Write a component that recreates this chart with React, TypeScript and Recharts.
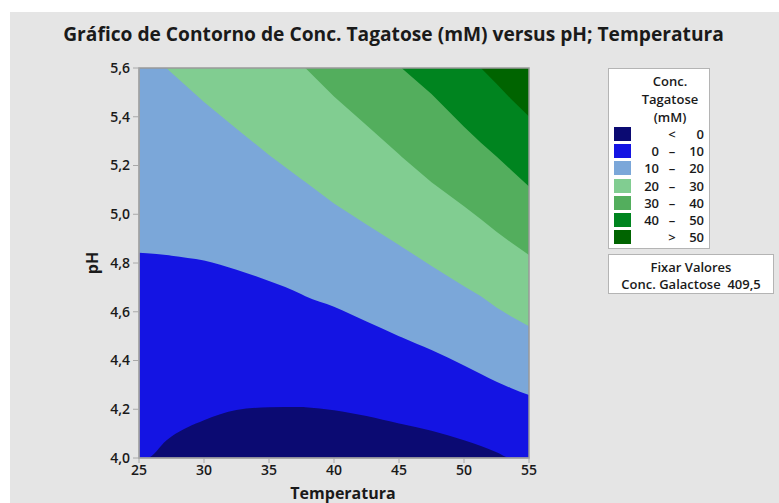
import React from 'react';
import {
    ComposedChart, Area, XAxis, YAxis, ReferenceArea, Label
} from 'recharts';

/* ── Dados ────────────────────────────────────────── */
const temperatura = [25, 25.6, 27.1, 27.5, 30, 32.5, 35, 37.5, 37.8, 40, 42.5, 45, 45.2, 47.5, 50, 51.3, 52.5, 53.6, 55];

// pH de cada linha de contorno (recortado ao domínio 4,0–5,6)
const nivel0 = [4.0, 4.0, 4.072, 4.088, 4.155, 4.197, 4.208, 4.209, 4.208, 4.196, 4.172, 4.142, 4.14, 4.112, 4.073, 4.049, 4.024, 4.0, 4.0];
const nivel10 = [4.842, 4.84, 4.833, 4.83, 4.81, 4.772, 4.726, 4.672, 4.664, 4.621, 4.56, 4.5, 4.495, 4.443, 4.38, 4.345, 4.313, 4.287, 4.258];
const nivel20 = [5.6, 5.6, 5.6, 5.581, 5.461, 5.351, 5.243, 5.144, 5.132, 5.044, 4.958, 4.874, 4.867, 4.788, 4.705, 4.664, 4.617, 4.582, 4.541];
const nivel30 = [5.6, 5.6, 5.6, 5.6, 5.6, 5.6, 5.6, 5.6, 5.6, 5.483, 5.365, 5.246, 5.236, 5.131, 5.033, 4.98, 4.928, 4.885, 4.833];
const nivel40 = [5.6, 5.6, 5.6, 5.6, 5.6, 5.6, 5.6, 5.6, 5.6, 5.6, 5.6, 5.6, 5.6, 5.493, 5.359, 5.293, 5.237, 5.183, 5.114];
const nivel50 = [5.6, 5.6, 5.6, 5.6, 5.6, 5.6, 5.6, 5.6, 5.6, 5.6, 5.6, 5.6, 5.6, 5.6, 5.6, 5.6, 5.535, 5.474, 5.401];

const ticksX = [25, 30, 35, 40, 45, 50, 55];
const ticksY = [4.0, 4.2, 4.4, 4.6, 4.8, 5.0, 5.2, 5.4, 5.6];

/* ── Cores / legenda ──────────────────────────────── */
const cores = ['#0b0a72', '#1414e3', '#7ba7d9', '#81cd91', '#53ae5d', '#00841f', '#006400'];
const legendaInicio = ['', '0', '10', '20', '30', '40', ''];
const legendaSinal = ['<', '–', '–', '–', '–', '–', '>'];
const legendaFim = ['0', '10', '20', '30', '40', '50', '50'];

const dados = temperatura.map((t, i) => ({
    t,
    c0: nivel0[i],
    c10: nivel10[i],
    c20: nivel20[i],
    c30: nivel30[i],
    c40: nivel40[i],
    c50: nivel50[i],
}));

const FONT = '"Open Sans", "Noto Sans", sans-serif';
const fmt = (v: number) => v.toFixed(1).replace('.', ',');

const RotuloPH = () => (
    <text
        x={92}
        y={263}
        transform="rotate(-90 92 263)"
        textAnchor="middle"
        dominantBaseline="central"
        style={{ fontSize: 16, fontWeight: 700, fill: '#1a1a1a', fontFamily: FONT }}
    >
        pH
    </text>
);

const Legenda: React.FC = () => (
    <>
        <div style={{
            position: 'absolute', left: 608, top: 68, width: 100, height: 179,
            background: '#fff', border: '1px solid #b4b4b4', fontFamily: FONT,
            fontWeight: 600, fontSize: 13, color: '#1a1a1a',
        }}>
            <div style={{ position: 'absolute', left: 0, top: 3, width: 122, textAlign: 'center', lineHeight: '18px' }}>
                Conc.<br />Tagatose<br />(mM)
            </div>
            {cores.map((c, i) => (
                <div key={c} style={{ position: 'absolute', left: 5, top: 58 + i * 17.2, height: 14, width: 92 }}>
                    <div style={{ position: 'absolute', left: 0, top: 0, width: 17, height: 14, background: c }} />
                    <div style={{ position: 'absolute', right: 47, top: -2, lineHeight: '18px' }}>{legendaInicio[i]}</div>
                    <div style={{ position: 'absolute', left: 53, top: -2, width: 10, textAlign: 'center', lineHeight: '18px' }}>{legendaSinal[i]}</div>
                    <div style={{ position: 'absolute', right: 2, top: -2, lineHeight: '18px' }}>{legendaFim[i]}</div>
                </div>
            ))}
        </div>
        <div style={{
            position: 'absolute', left: 608, top: 254, width: 166, height: 40,
            background: '#fff', border: '1px solid #b4b4b4', fontFamily: FONT,
            fontWeight: 600, fontSize: 13, color: '#1a1a1a', textAlign: 'center', lineHeight: '17px',
            paddingTop: 4, boxSizing: 'border-box',
        }}>
            Fixar Valores<br />Conc. Galactose&nbsp; 409,5
        </div>
    </>
);

const App: React.FC = () => (
    <div style={{ position: 'absolute', left: 0, top: 0, width: 779, height: 503, background: '#fff' }}>
        <div style={{ position: 'absolute', left: 10, top: 12, width: 769, height: 491, background: '#e5e5e5' }} />
        <div style={{
            position: 'absolute', left: 0, top: 20, width: 787, textAlign: 'center',
            fontFamily: FONT, fontWeight: 700, fontSize: 19.2, color: '#1a1a1a',
        }}>
            Gráfico de Contorno de Conc. Tagatose (mM) versus pH; Temperatura
        </div>
        <div style={{ position: 'absolute', left: 0, top: 0 }}>
            <ComposedChart
                width={779}
                height={503}
                data={dados}
                margin={{ top: 68, right: 250, bottom: 15, left: 99 }}
            >
                <XAxis
                    dataKey="t"
                    type="number"
                    domain={[25, 55]}
                    ticks={ticksX}
                    allowDataOverflow
                    tick={{ fontSize: 14, fill: '#1a1a1a', fontFamily: FONT, fontWeight: 600 }}
                    tickSize={5}
                    tickMargin={2}
                    height={30}
                    stroke="#a8a8a8"
                >
                    <Label
                        value="Temperatura"
                        position="bottom"
                        offset={0}
                        dx={9}
                        style={{ fontSize: 16, fontWeight: 700, fill: '#1a1a1a', fontFamily: FONT }}
                    />
                </XAxis>
                <YAxis
                    type="number"
                    domain={[4, 5.6]}
                    ticks={ticksY}
                    allowDataOverflow
                    tickFormatter={fmt}
                    tick={{ fontSize: 14, fill: '#1a1a1a', fontFamily: FONT, fontWeight: 600 }}
                    tickSize={6}
                    tickMargin={3}
                    width={40}
                    stroke="#a8a8a8"
                >
                    <Label content={RotuloPH} />
                </YAxis>
                <ReferenceArea x1={25} x2={55} y1={4} y2={5.6} fill={cores[6]} fillOpacity={1} stroke="none" />
                <Area type="linear" dataKey="c50" baseValue={4} fill={cores[5]} fillOpacity={1} stroke="none" isAnimationActive={false} />
                <Area type="linear" dataKey="c40" baseValue={4} fill={cores[4]} fillOpacity={1} stroke="none" isAnimationActive={false} />
                <Area type="linear" dataKey="c30" baseValue={4} fill={cores[3]} fillOpacity={1} stroke="none" isAnimationActive={false} />
                <Area type="linear" dataKey="c20" baseValue={4} fill={cores[2]} fillOpacity={1} stroke="none" isAnimationActive={false} />
                <Area type="monotone" dataKey="c10" baseValue={4} fill={cores[1]} fillOpacity={1} stroke="none" isAnimationActive={false} />
                <Area type="monotone" dataKey="c0" baseValue={4} fill={cores[0]} fillOpacity={1} stroke="none" isAnimationActive={false} />
                <ReferenceArea x1={25} x2={55} y1={4} y2={5.6} fill="none" stroke="#999" strokeWidth={1.5} />
            </ComposedChart>
        </div>
        <Legenda />
    </div>
);

export default App;
